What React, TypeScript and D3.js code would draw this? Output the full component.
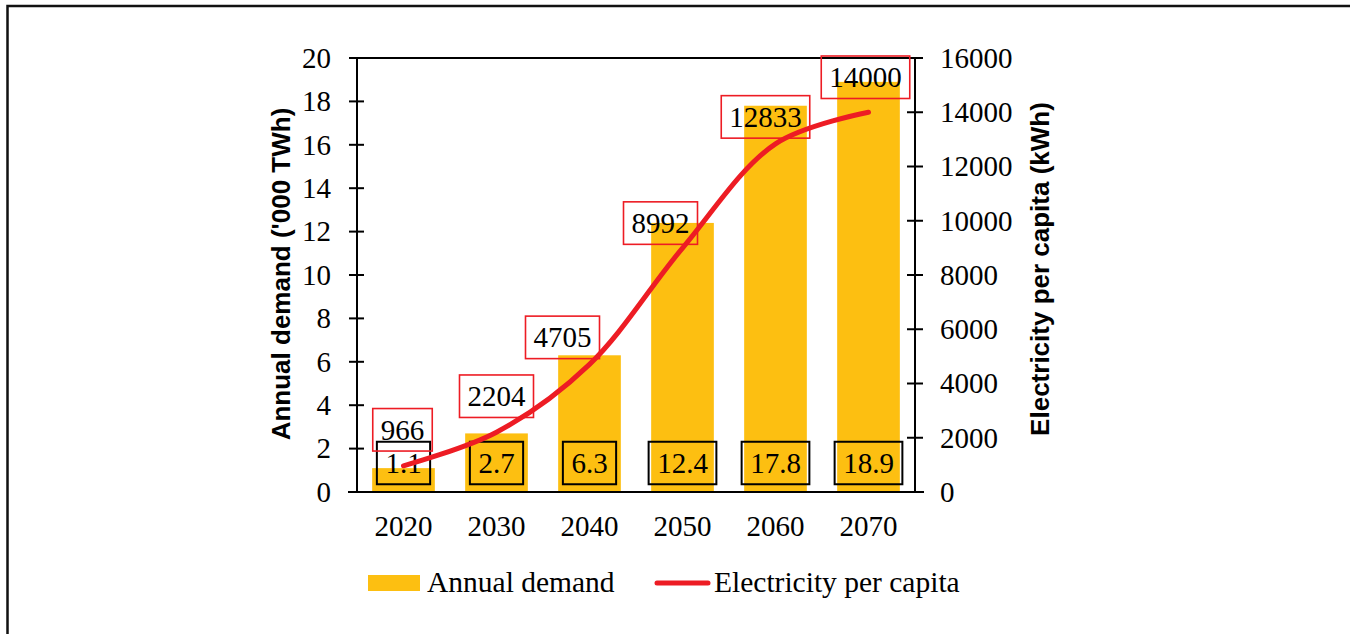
import * as d3 from 'd3';

const years = ['2020', '2030', '2040', '2050', '2060', '2070'];
const annualDemand = [1.1, 2.7, 6.3, 12.4, 17.8, 18.9];
const perCapita = [966, 2204, 4705, 8992, 12833, 14000];
const leftTicks = [0, 2, 4, 6, 8, 10, 12, 14, 16, 18, 20];
const rightTicks = [0, 2000, 4000, 6000, 8000, 10000, 12000, 14000, 16000];

// where each per-capita label box sits relative to its point (layout only)
const capitaLabelNudge = [
  [-1, -36],
  [0, -36],
  [-27, -27],
  [-22, -25],
  [-10, -27],
  [-3, -35],
];

const W = 1350;
const H = 634;
const plot = { left: 357, right: 915, top: 58, bottom: 492 };
const serif = '"Liberation Serif", "Times New Roman", serif';
const sans = '"Liberation Sans", Arial, sans-serif';
const FS = 29;
const BAR = '#FDBF11';
const RED = '#ED1C24';

// rough Times metrics: digits 0.5em, dot 0.25em
const textW = (s: string) => s.split('').reduce((a, c) => a + (c === '.' ? 0.25 : 0.5), 0) * FS;

export default function App() {
  const x = d3
    .scaleBand<string>()
    .domain(years)
    .range([plot.left, plot.right])
    .paddingInner(0.326)
    .paddingOuter(0.163);
  const yL = d3.scaleLinear().domain([0, 20]).range([plot.bottom, plot.top]);
  const yR = d3.scaleLinear().domain([0, 16000]).range([plot.bottom, plot.top]);
  const cx = (y: string) => (x(y) ?? 0) + x.bandwidth() / 2;

  const line = d3
    .line<number>()
    .x((_, i) => cx(years[i]))
    .y((d) => yR(d))
    .curve(d3.curveCatmullRom);

  const boxH = 42.5;
  const baseLabelY = yL(0) - 29;

  return (
    <svg
      width={W}
      height={H}
      style={{ position: 'absolute', left: 0, top: 0, background: '#fff' }}
    >
      <rect x={7.5} y={6} width={1400} height={700} fill="#fff" stroke="#111" strokeWidth={2.5} />

      {/* bars */}
      {annualDemand.map((v, i) => (
        <rect
          key={years[i]}
          x={x(years[i])}
          y={yL(v)}
          width={x.bandwidth()}
          height={yL(0) - yL(v)}
          fill={BAR}
        />
      ))}

      {/* plot frame and axes */}
      <line x1={plot.left} x2={plot.right} y1={plot.top} y2={plot.top} stroke="#000" strokeWidth={2} />
      <line x1={plot.left} x2={plot.left} y1={plot.top} y2={plot.bottom} stroke="#000" strokeWidth={2} />
      <line x1={plot.right} x2={plot.right} y1={plot.top} y2={plot.bottom} stroke="#000" strokeWidth={2} />
      <line x1={plot.left - 9} x2={plot.right + 9} y1={plot.bottom} y2={plot.bottom} stroke="#000" strokeWidth={2} />

      {leftTicks.map((t) => (
        <g key={'l' + t}>
          <line x1={plot.left - 8} x2={plot.left + 7} y1={yL(t)} y2={yL(t)} stroke="#000" strokeWidth={2} />
          <text
            x={plot.left - 26}
            y={yL(t)}
            dy="0.34em"
            textAnchor="end"
            fontFamily={serif}
            fontSize={FS}
          >
            {t}
          </text>
        </g>
      ))}
      {rightTicks.map((t) => (
        <g key={'r' + t}>
          <line x1={plot.right - 8} x2={plot.right + 8} y1={yR(t)} y2={yR(t)} stroke="#000" strokeWidth={2} />
          <text x={plot.right + 25} y={yR(t)} dy="0.34em" fontFamily={serif} fontSize={FS}>
            {t}
          </text>
        </g>
      ))}
      {years.map((yr) => (
        <text key={'x' + yr} x={cx(yr)} y={536} textAnchor="middle" fontFamily={serif} fontSize={FS}>
          {yr}
        </text>
      ))}

      <text
        transform={`translate(281,${(plot.top + plot.bottom) / 2 - 1}) rotate(-90)`}
        textAnchor="middle"
        dy="0.36em"
        fontFamily={sans}
        fontWeight="bold"
        fontSize={26}
      >
        Annual demand ('000 TWh)
      </text>
      <text
        transform={`translate(1040,${(plot.top + plot.bottom) / 2 - 6}) rotate(-90)`}
        textAnchor="middle"
        dy="0.36em"
        fontFamily={sans}
        fontWeight="bold"
        fontSize={26}
      >
        Electricity per capita (kWh)
      </text>

      {/* bar value labels */}
      {annualDemand.map((v, i) => {
        const s = v.toFixed(1);
        const bw = textW(s) + 17;
        const c = cx(years[i]);
        return (
          <g key={'b' + i}>
            <rect x={c - bw / 2} y={baseLabelY - boxH / 2} width={bw} height={boxH} fill="none" stroke="#000" strokeWidth={2} />
            <text x={c} y={baseLabelY} dy="0.34em" textAnchor="middle" fontFamily={serif} fontSize={FS}>
              {s}
            </text>
          </g>
        );
      })}

      {/* per-capita labels */}
      {perCapita.map((v, i) => {
        const s = String(v);
        const bw = textW(s) + 16;
        const c = cx(years[i]) + capitaLabelNudge[i][0];
        const cy = yR(v) + capitaLabelNudge[i][1];
        return (
          <g key={'c' + i}>
            <rect x={c - bw / 2} y={cy - boxH / 2} width={bw} height={boxH} fill="none" stroke={RED} strokeWidth={1.6} />
            <text x={c} y={cy} dy="0.34em" textAnchor="middle" fontFamily={serif} fontSize={FS}>
              {s}
            </text>
          </g>
        );
      })}

      <path d={line(perCapita) ?? ''} fill="none" stroke={RED} strokeWidth={5} strokeLinecap="round" />

      {/* legend */}
      <rect x={368} y={575} width={52} height={16} fill={BAR} />
      <text x={427} y={592} fontFamily={serif} fontSize={29.5}>
        Annual demand
      </text>
      <line x1={657} x2={708} y1={583} y2={583} stroke={RED} strokeWidth={5} strokeLinecap="round" />
      <text x={714} y={592} fontFamily={serif} fontSize={29.5}>
        Electricity per capita
      </text>
    </svg>
  );
}
